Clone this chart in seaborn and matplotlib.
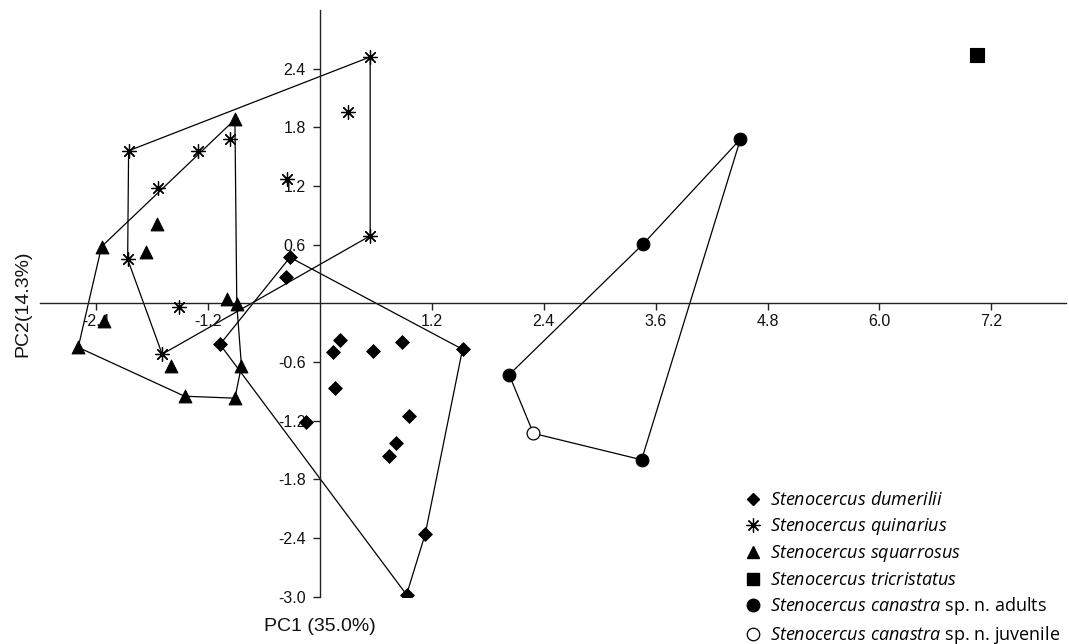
import matplotlib
matplotlib.use('Agg')
import matplotlib.pyplot as plt
from matplotlib.lines import Line2D
import seaborn as sns

# ── DATA ──────────────────────────────────────────────────────
dum_x = [-0.32, -0.36, -1.07, 0.22, 0.14, 0.57, 0.88, 1.53, 0.16, 0.96, -0.15, 0.82, 0.74, 1.13, 0.93]
dum_y = [0.47, 0.27, -0.42, -0.38, -0.50, -0.49, -0.40, -0.47, -0.87, -1.15, -1.21, -1.43, -1.56, -2.36, -2.98]
dum_hull = [0, 7, 13, 14, 2, 0]

qui_x = [0.54, 0.30, -0.35, -2.05, -1.31, -1.73, -0.96, -2.06, 0.54, -1.51, -1.69]
qui_y = [2.52, 1.96, 1.27, 1.56, 1.56, 1.18, 1.68, 0.45, 0.69, -0.04, -0.52]
qui_hull = [3, 0, 8, 10, 7, 3]

squ_x = [-0.91, -2.34, -1.75, -1.86, -1.00, -0.89, -2.31, -2.59, -1.60, -1.45, -0.91, -0.84]
squ_y = [1.88, 0.58, 0.81, 0.53, 0.04, -0.01, -0.18, -0.45, -0.64, -0.95, -0.97, -0.64]
squ_hull = [0, 1, 7, 9, 10, 11, 5, 0]

tri_x = [7.05]
tri_y = [2.54]

can_x = [4.51, 3.47, 2.03, 3.45]
can_y = [1.68, 0.61, -0.73, -1.60]
juv_x = [2.29]
juv_y = [-1.33]

x_ticks = [-2.4, -1.2, 1.2, 2.4, 3.6, 4.8, 6.0, 7.2]
y_ticks = [-3.0, -2.4, -1.8, -1.2, -0.6, 0.6, 1.2, 1.8, 2.4]

legend_labels = [
    r'$\mathit{Stenocercus\ dumerilii}$',
    r'$\mathit{Stenocercus\ quinarius}$',
    r'$\mathit{Stenocercus\ squarrosus}$',
    r'$\mathit{Stenocercus\ tricristatus}$',
    r'$\mathit{Stenocercus\ canastra}$ sp. n. adults',
    r'$\mathit{Stenocercus\ canastra}$ sp. n. juvenile',
]

# ── STYLE ────────────────────────────────────────────────────
sns.set_theme(style='white')
plt.rcParams['font.family'] = ['Liberation Sans', 'DejaVu Sans']
plt.rcParams['mathtext.fontset'] = 'custom'
plt.rcParams['mathtext.it'] = 'Open Sans:italic'
plt.rcParams['mathtext.rm'] = 'Open Sans'

ASTER = (8, 2, 0)
LW = 0.9

fig = plt.figure(figsize=(10.69, 6.44), dpi=100)
ax = fig.add_axes([0.0374, 0.0735, 0.9598, 0.9110])

# hull outlines
def hull(xs, ys, order):
    ax.plot([xs[i] for i in order], [ys[i] for i in order], color='black', lw=LW, zorder=2)

hull(dum_x, dum_y, dum_hull)
hull(qui_x, qui_y, qui_hull)
hull(squ_x, squ_y, squ_hull)
can_hx = can_x[:3] + juv_x + can_x[3:] + can_x[:1]
can_hy = can_y[:3] + juv_y + can_y[3:] + can_y[:1]
ax.plot(can_hx, can_hy, color='black', lw=LW, zorder=2)

# points
sns.scatterplot(x=dum_x, y=dum_y, marker='D', s=50, color='black', edgecolor='black', ax=ax, zorder=3)
sns.scatterplot(x=qui_x, y=qui_y, marker=ASTER, s=100, color='black', linewidth=0.9, ax=ax, zorder=3)
sns.scatterplot(x=squ_x, y=squ_y, marker='^', s=85, color='black', edgecolor='black', ax=ax, zorder=3)
sns.scatterplot(x=tri_x, y=tri_y, marker='s', s=105, color='black', edgecolor='black', ax=ax, zorder=3)
sns.scatterplot(x=can_x, y=can_y, marker='o', s=85, color='black', edgecolor='black', ax=ax, zorder=3)
sns.scatterplot(x=juv_x, y=juv_y, marker='o', s=85, color='white', edgecolor='black', linewidth=0.9, ax=ax, zorder=3)

# axes through the origin
ax.set_xlim(-3.0, 8.0)
ax.set_ylim(-3.0, 3.0)
for side in ['top', 'right']:
    ax.spines[side].set_visible(False)
for side in ['left', 'bottom']:
    ax.spines[side].set_position(('data', 0))
    ax.spines[side].set_color('#222222')
    ax.spines[side].set_linewidth(1.0)

ax.set_xticks(x_ticks)
ax.set_xticklabels([f'{v:.1f}' for v in x_ticks])
ax.set_yticks(y_ticks)
ax.set_yticklabels([f'{v:.1f}' for v in y_ticks])
ax.tick_params(axis='both', which='major', direction='out', length=5, width=1,
               color='#222222', labelsize=11.5, labelcolor='#111111')
ax.tick_params(axis='x', bottom=True, pad=3)
ax.tick_params(axis='y', left=True, pad=5)
ax.grid(False)

ax.text(0, -3.31, 'PC1 (35.0%)', ha='center', va='center', fontsize=14, color='#111111', clip_on=False)
ax.text(-3.18, 0, 'PC2(14.3%)', ha='center', va='center', rotation=90, fontsize=14,
        color='#111111', clip_on=False)

# legend
handles = [
    Line2D([], [], ls='none', marker='D', ms=6.5, color='black'),
    Line2D([], [], ls='none', marker=ASTER, ms=10, color='black', mew=0.9),
    Line2D([], [], ls='none', marker='^', ms=8.5, color='black'),
    Line2D([], [], ls='none', marker='s', ms=9, color='black'),
    Line2D([], [], ls='none', marker='o', ms=9, color='black'),
    Line2D([], [], ls='none', marker='o', ms=9, mfc='white', mec='black', mew=0.9),
]
leg = fig.legend(handles, legend_labels, loc='upper left', bbox_to_anchor=(0.6977, 0.237),
                 frameon=False, borderpad=0, borderaxespad=0, handlelength=0.8,
                 handletextpad=0.54, labelspacing=0.36, labelcolor='black',
                 prop={'family': 'Open Sans', 'size': 13})

fig.savefig('out.png', dpi=100)
